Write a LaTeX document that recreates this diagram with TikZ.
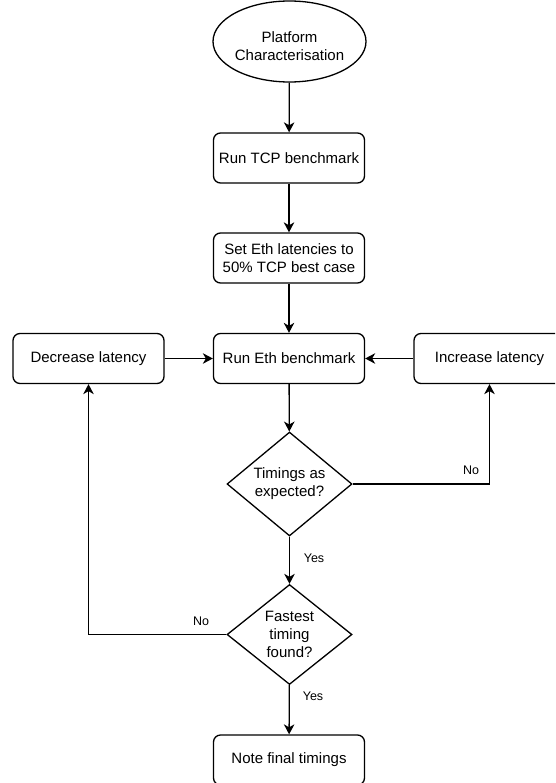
\documentclass[tikz,border=0pt]{standalone}
\usepackage{fontspec}
\setmainfont{Liberation Sans}
\usetikzlibrary{shapes.geometric,arrows.meta}

\tikzset{
  flow/.style={line width=1.3pt, -{Stealth[length=10pt,width=10.5pt,inset=3pt]}},
  plain/.style={line width=1.3pt},
  stepbox/.style={draw, line width=1.3pt, rounded corners=7pt, minimum width=151pt,
    minimum height=50pt, inner sep=0pt, align=center,
    font=\fontsize{15}{18}\selectfont},
  decision/.style={draw, diamond, line width=1.3pt, minimum width=125pt,
    minimum height=100pt, inner sep=0pt, align=center,
    font=\fontsize{15}{18}\selectfont},
  terminal/.style={draw, ellipse, line width=1.3pt, minimum width=153pt,
    minimum height=81pt, inner sep=0pt},
  termtext/.style={align=center, font=\fontsize{15}{18}\selectfont, yshift=-5pt},
  edgelabel/.style={font=\fontsize{12.5}{15}\selectfont, inner sep=0pt}
}

\begin{document}
\begin{tikzpicture}[x=1pt, y=-1pt]
  \useasboundingbox (0,0) rectangle (555,783);
  \clip (0,0) rectangle (555,783);

  % main column
  \node[terminal, label={[termtext]center:Platform\\Characterisation}] (start) at (289.5,41.5) {};
  \node[stepbox] (tcp) at (289,158) {Run TCP benchmark};
  \node[stepbox] (set) at (289,258) {Set Eth latencies to\\50\% TCP best case};
  \node[stepbox] (runeth) at (289,358.5) {Run Eth benchmark};
  \node[stepbox] (dec) at (88.5,358.5) {Decrease latency};
  \node[stepbox] (inc) at (489.5,358.5) {Increase latency};
  \node[decision] (exp) at (289.5,484) {Timings as\\expected?};
  \node[decision] (fast) at (289.5,634.5) {Fastest\\timing\\found?};
  \node[stepbox] (note) at (289,760) {Note final timings};

  % bend points of the feedback loops
  \coordinate (incturn) at (inc.south |- exp.east);
  \coordinate (decturn) at (dec.south |- fast.west);

  % connectors
  \draw[flow] (start) -- (tcp);
  \draw[flow] (tcp) -- (set);
  \draw[flow] (set) -- (runeth);
  \draw[flow] (runeth) -- (exp);
  \draw[flow] (exp) -- (fast);
  \draw[flow] (fast) -- (note);
  \draw[flow] (dec) -- (runeth);
  \draw[flow] (inc) -- (runeth);
  \draw[plain] (exp.east) -- (incturn);
  \draw[flow] (incturn) -- (inc.south);
  \draw[plain] (fast.west) -- (decturn);
  \draw[flow] (decturn) -- (dec.south);

  % branch labels
  \node[edgelabel] (noexp) at (471,470) {No};
  \node[edgelabel] (yesexp) at (314,558) {Yes};
  \node[edgelabel] (nofast) at (201,621) {No};
  \node[edgelabel] (yesfast) at (313,696) {Yes};
\end{tikzpicture}
\end{document}
